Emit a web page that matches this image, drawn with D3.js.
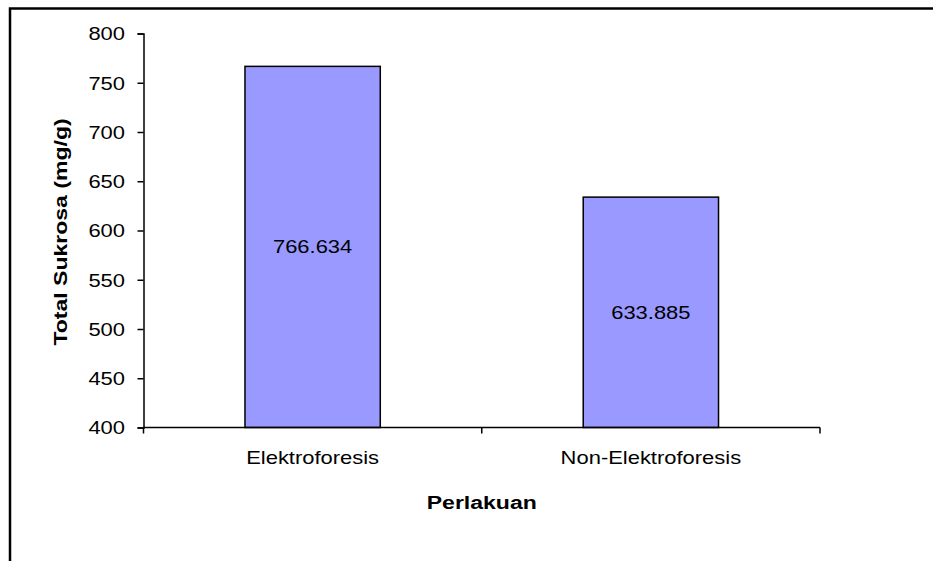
<!DOCTYPE html>
<html>
<head>
<meta charset="utf-8">
<script src="https://cdn.jsdelivr.net/npm/d3@7"></script>
<style>
  body { margin: 0; background: #fff; }
  text { font-family: "Liberation Sans", Arial, sans-serif; fill: #000; }
</style>
</head>
<body>
<svg id="chart" width="933" height="561"></svg>
<script>
// Data
const categories = ["Elektroforesis", "Non-Elektroforesis"];
const values = [766.634, 633.885];
const yTickValues = [400, 450, 500, 550, 600, 650, 700, 750, 800];
const yDomain = [400, 800];
const xTitle = "Perlakuan";
const yTitle = "Total Sukrosa (mg/g)";

const svg = d3.select("#chart");

// Plot area
const plot = { left: 143.5, right: 820, top: 33.5, bottom: 427.5 };
const stretch = 1.22;      // horizontal widening of regular labels
const stretchBold = 1.28;  // horizontal widening of bold titles

// Outer frame (top and left edges)
svg.append("path")
  .attr("d", "M10,561V8.5H933")
  .attr("fill", "none")
  .attr("stroke", "#000")
  .attr("stroke-width", 2.5);

const y = d3.scaleLinear().domain(yDomain).range([plot.bottom, plot.top]);
const x = d3.scaleBand().domain(categories)
  .range([plot.left, plot.right])
  .paddingInner(0.6)
  .paddingOuter(0.3);

// Bars
svg.append("g").selectAll("rect")
  .data(values)
  .join("rect")
  .attr("x", (d, i) => x(categories[i]))
  .attr("y", d => y(d))
  .attr("width", x.bandwidth())
  .attr("height", d => y(yDomain[0]) - y(d))
  .attr("fill", "#9999FF")
  .attr("stroke", "#000")
  .attr("stroke-width", 1.5);

// Value labels centred in each bar
svg.append("g").selectAll("text")
  .data(values)
  .join("text")
  .attr("transform", (d, i) => {
    const cx = x(categories[i]) + x.bandwidth() / 2;
    const cy = (y(d) + y(yDomain[0])) / 2;
    return `translate(${cx},${cy}) scale(${stretch},1)`;
  })
  .attr("text-anchor", "middle")
  .attr("dy", "0.35em")
  .style("font-size", "18px")
  .text(d => d.toFixed(3));

// Y axis
const yAxis = svg.append("g")
  .attr("transform", `translate(${plot.left},0)`)
  .call(d3.axisLeft(y).tickValues(yTickValues).tickSize(6).tickSizeOuter(6));
yAxis.select(".domain").attr("stroke", "#000").attr("stroke-width", 1.5);
yAxis.selectAll(".tick line").attr("stroke", "#000").attr("stroke-width", 1.5);
yAxis.selectAll(".tick text")
  .attr("x", null)
  .attr("dy", "0.35em")
  .attr("text-anchor", "end")
  .attr("transform", `translate(-18.5,0) scale(${stretch},1)`)
  .style("font-size", "18px")
  .style("font-family", "'Liberation Sans', Arial, sans-serif")
  .attr("fill", "#000");

// X axis line with ticks at the category boundaries
const xAxis = svg.append("g");
xAxis.append("line")
  .attr("x1", plot.left).attr("x2", plot.right)
  .attr("y1", plot.bottom).attr("y2", plot.bottom)
  .attr("stroke", "#000").attr("stroke-width", 1.5);
const halfGap = x.step() * x.paddingInner() / 2;
const boundaries = categories.map(c => x(c) - halfGap).concat([plot.right]);
xAxis.selectAll("line.tick")
  .data(boundaries)
  .join("line")
  .attr("class", "tick")
  .attr("x1", d => d).attr("x2", d => d)
  .attr("y1", plot.bottom).attr("y2", plot.bottom + 6)
  .attr("stroke", "#000").attr("stroke-width", 1.5);
xAxis.selectAll("text")
  .data(categories)
  .join("text")
  .attr("transform", d => `translate(${x(d) + x.bandwidth() / 2},464) scale(${stretch},1)`)
  .attr("text-anchor", "middle")
  .style("font-size", "18px")
  .text(d => d);

// Axis titles
svg.append("text")
  .attr("transform", `translate(${(plot.left + plot.right) / 2},509) scale(${stretchBold},1)`)
  .attr("text-anchor", "middle")
  .style("font-size", "18px")
  .style("font-weight", "bold")
  .text(xTitle);

svg.append("text")
  .attr("transform", `translate(61,232) rotate(-90) scale(${stretchBold},1)`)
  .attr("text-anchor", "middle")
  .attr("dy", "0.35em")
  .style("font-size", "18px")
  .style("font-weight", "bold")
  .text(yTitle);
</script>
</body>
</html>
